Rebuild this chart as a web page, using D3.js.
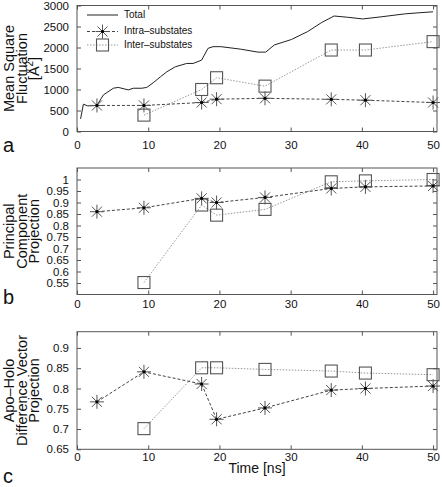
<!DOCTYPE html>
<html><head><meta charset="utf-8">
<script src="https://cdn.jsdelivr.net/npm/d3@7"></script>
<style>body{margin:0;background:#fff;}svg{display:block;font-family:"Liberation Sans",Arial,sans-serif;}</style>
</head><body>
<script>
// ---- data ----
const totalTime = [0.5,0.9,1.5,2.8,3.7,5.1,5.8,7.2,7.9,9.1,9.8,10.7,11.7,12.6,13.8,15.4,16.3,17.5,18.4,19.1,20.2,23.0,25.4,26.5,27.7,30.1,32.4,34.3,36.1,38.0,40.1,42.7,46.0,48.3,50.0];
const totalMSF = [300,650,610,620,870,1030,1050,990,1030,1030,1050,1160,1300,1420,1540,1620,1620,1700,1980,2020,2020,1960,1890,1890,2060,2190,2380,2590,2750,2720,2680,2730,2800,2830,2850];
const sampleTime = [2.8,9.4,17.5,19.6,26.4,35.7,40.5,50.0];
const intraMSF = [620,620,690,770,790,766,745,690];
const interMSF = [null,390,1000,1280,1080,1940,1940,2140];
const intraPC = [0.860,0.877,0.918,0.900,0.922,0.961,0.968,0.972];
const interPC = [null,0.552,0.889,0.845,0.870,0.990,0.994,1.000];
const intraAH = [0.767,0.841,0.811,0.724,0.752,0.796,0.800,0.806];
const interAH = [null,0.701,0.851,0.851,0.847,0.843,0.838,0.834];
const xTicks = [0,10,20,30,40,50];
const yTicksA = [0,500,1000,1500,2000,2500,3000];
const yTicksB = [0.55,0.6,0.65,0.7,0.75,0.8,0.85,0.9,0.95,1];
const yTicksC = [0.65,0.7,0.75,0.8,0.85,0.9];
const legendLabels = ["Total","Intra\u2013substates","Inter\u2013substates"];

const W=442,H=487;
const svg=d3.select("body").append("svg").attr("width",W).attr("height",H);
const L=77,R=437;
const x=d3.scaleLinear().domain([0,50.55]).range([L,R]);

const panels=[
 {top:5.5,bottom:131.5,dom:[0,3000],ticks:yTicksA,fmt:d=>d,title:["Mean Square","Fluctuation","[Å²]"],letter:"a",letterY:152,tickLabY:146,intra:intraMSF,inter:interMSF,total:true},
 {top:168,bottom:294.5,dom:[0.5,1.05],ticks:yTicksB,fmt:d=>String(d),title:["Principal","Component","Projection"],letter:"b",letterY:304,tickLabY:305},
 {top:331.7,bottom:449.3,dom:[0.65,0.94],ticks:yTicksC,fmt:d=>String(d),title:["Apo\u2013Holo","Difference Vector","Projection"],letter:"c",letterY:483,tickLabY:458}
];
panels[1].intra=intraPC;panels[1].inter=interPC;
panels[2].intra=intraAH;panels[2].inter=interAH;

const axisCol="#555";
function asterisk(g,cx,cy,s){
  const a=g.append("g").attr("transform",`translate(${cx},${cy})`);
  const r=s/2;
  [[-r,0,r,0],[0,-r,0,r],[-r*0.72,-r*0.72,r*0.72,r*0.72],[-r*0.72,r*0.72,r*0.72,-r*0.72]].forEach(l=>{
    a.append("line").attr("x1",l[0]).attr("y1",l[1]).attr("x2",l[2]).attr("y2",l[3]).attr("stroke","#555").attr("stroke-width",1);
  });
  a.append("circle").attr("r",1.6).attr("fill","#000");
}
function square(g,cx,cy,s){
  g.append("rect").attr("x",cx-s/2).attr("y",cy-s/2).attr("width",s).attr("height",s)
   .attr("fill","none").attr("stroke","#555").attr("stroke-width",1.1);
}

panels.forEach(p=>{
  const y=d3.scaleLinear().domain(p.dom).range([p.bottom,p.top]);
  const g=svg.append("g");
  // frame
  g.append("rect").attr("x",L).attr("y",p.top).attr("width",R-L).attr("height",p.bottom-p.top)
   .attr("fill","none").attr("stroke",axisCol).attr("stroke-width",1);
  // axes with inward ticks
  const ax=g.append("g").attr("transform",`translate(0,${p.bottom})`)
    .call(d3.axisBottom(x).tickValues(xTicks).tickSize(-4).tickPadding(9).tickFormat(d3.format("d")));
  const axT=g.append("g").attr("transform",`translate(0,${p.top})`)
    .call(d3.axisTop(x).tickValues(xTicks).tickSize(-4).tickFormat(""));
  const ay=g.append("g").attr("transform",`translate(${L},0)`)
    .call(d3.axisLeft(y).tickValues(p.ticks).tickSize(-4).tickPadding(8).tickFormat(p.fmt));
  const ayR=g.append("g").attr("transform",`translate(${R},0)`)
    .call(d3.axisRight(y).tickValues(p.ticks).tickSize(-4).tickFormat(""));
  [ax,axT,ay,ayR].forEach(a=>{a.select(".domain").remove();a.selectAll("line").attr("stroke",axisCol);
    a.selectAll("text").attr("font-size",11.5).attr("fill","#111").attr("font-family","Liberation Sans, Arial, sans-serif");});
  ax.selectAll("text").attr("dy",null).attr("y",null).attr("transform",null)
    .attr("y",p.tickLabY-p.bottom).attr("dominant-baseline","middle");

  // title
  const cy=(p.top+p.bottom)/2;
  const tg=g.append("text").attr("transform",`translate(0,${cy}) rotate(-90)`)
    .attr("text-anchor","middle").attr("font-size",14.5).attr("fill","#111");
  p.title.forEach((t,i)=>{
    if(t==="[Å²]"){
      const ts=tg.append("tspan").attr("x",0).attr("y",14+i*12.5).text("[Å");
      tg.append("tspan").attr("font-size",10).attr("dy",-6).text("2");
      tg.append("tspan").attr("dy",6).text("]");
    } else tg.append("tspan").attr("x",0).attr("y",14+i*12.5).text(t);
  });
  g.append("text").attr("x",3).attr("y",p.letterY).attr("font-size",20).attr("fill","#111").text(p.letter);

  // total
  if(p.total){
    const pts=totalTime.map((t,i)=>[t,totalMSF[i]]);
    g.append("path").attr("d",d3.line().x(d=>x(d[0])).y(d=>y(d[1]))(pts))
     .attr("fill","none").attr("stroke","#222").attr("stroke-width",1);
  }
  const intraPts=sampleTime.map((t,i)=>[t,p.intra[i]]);
  const interPts=sampleTime.map((t,i)=>[t,p.inter[i]]).filter(d=>d[1]!=null);
  g.append("path").attr("d",d3.line().x(d=>x(d[0])).y(d=>y(d[1]))(interPts))
   .attr("fill","none").attr("stroke","#999").attr("stroke-width",1).attr("stroke-dasharray","1.5,1.5");
  g.append("path").attr("d",d3.line().x(d=>x(d[0])).y(d=>y(d[1]))(intraPts))
   .attr("fill","none").attr("stroke","#444").attr("stroke-width",1).attr("stroke-dasharray","3,2");
  interPts.forEach(d=>square(g,x(d[0]),y(d[1]),12));
  intraPts.forEach(d=>asterisk(g,x(d[0]),y(d[1]),14));
});

// legend
const lg=svg.append("g");
const ly=[15,31.5,45];
lg.append("line").attr("x1",87).attr("x2",118).attr("y1",ly[0]).attr("y2",ly[0]).attr("stroke","#222");
lg.append("line").attr("x1",87).attr("x2",118).attr("y1",ly[1]).attr("y2",ly[1]).attr("stroke","#444").attr("stroke-dasharray","3,2");
asterisk(lg,102.5,ly[1],14);
lg.append("line").attr("x1",87).attr("x2",118).attr("y1",ly[2]).attr("y2",ly[2]).attr("stroke","#999").attr("stroke-dasharray","1.5,1.5");
square(lg,102.5,ly[2],12);
legendLabels.forEach((t,i)=>lg.append("text").attr("x",124).attr("y",ly[i]).attr("dominant-baseline","middle")
  .attr("font-size",10).attr("fill","#111").text(t));

svg.append("text").attr("x",(L+R)/2).attr("y",473).attr("text-anchor","middle").attr("font-size",14).attr("fill","#111").text("Time [ns]");
</script>
</body></html>
